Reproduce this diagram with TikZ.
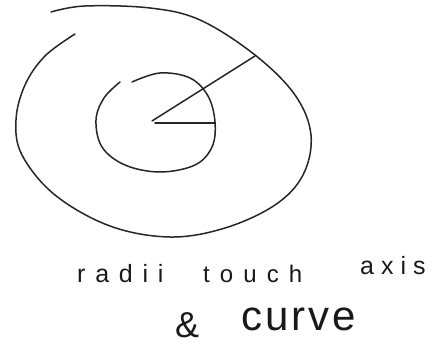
\documentclass[tikz,border=0pt]{standalone}
\usepackage{fontspec}
\setmainfont{Liberation Sans}
\begin{document}
\begin{tikzpicture}[x=1pt,y=-1pt,
  pen/.style={line width=1.5pt,line cap=round,line join=round,black!85},
  hand/.style={inner sep=0pt,anchor=base west,text=black!90}]
\useasboundingbox (0,0) rectangle (441,344);
\draw[pen] plot[smooth,tension=0.6] coordinates {(51,12) (85,6) (150,8) (200,20) (255,55) (295,95) (311,135) (303,175) (275,205) (225,228) (170,237) (110,226) (55,195) (22,155) (16,120) (25,85) (45,56) (75,34)};
\draw[pen] plot[smooth,tension=0.6] coordinates {(132,82) (160,73) (190,78) (208,96) (215,122) (212,147) (195,165) (160,172) (125,165) (102,147) (96,120) (104,98) (120,82)};
\coordinate (c) at (152,121);
\coordinate (r1) at (255,56);
\coordinate (r2) at (215,123);
\draw[pen] (c) -- (r1);
\draw[pen] (c) ++(3,2) -- (r2);
\node[hand,font=\fontsize{25}{28}\selectfont\addfontfeature{LetterSpace=39}] (w1) at (77,283) {radii};
\node[hand,font=\fontsize{24}{28}\selectfont\addfontfeature{LetterSpace=42}] (w2) at (203,283) {touch};
\node[hand,font=\fontsize{25}{28}\selectfont\addfontfeature{LetterSpace=28}] (w3) at (360,275) {axis};
\node[hand,font=\fontsize{36}{40}\selectfont] (w4) at (175,337) {\&};
\node[hand,font=\fontsize{42}{46}\selectfont\addfontfeature{LetterSpace=7}] (w5) at (241,330) {curve};
\end{tikzpicture}
\end{document}
